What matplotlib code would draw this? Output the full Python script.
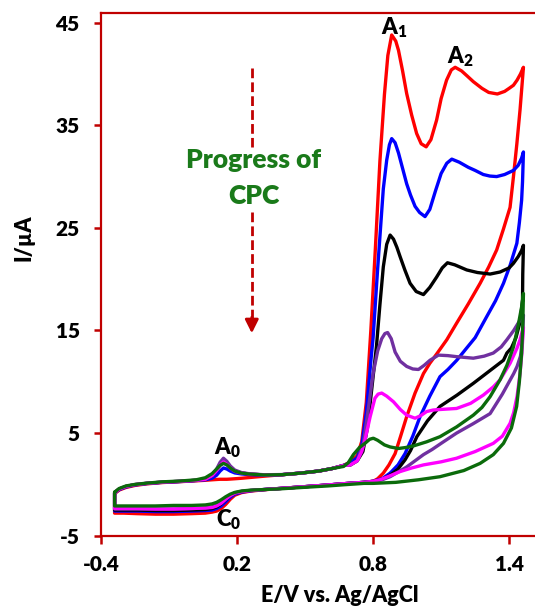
import numpy as np
import matplotlib
matplotlib.use("Agg")
import matplotlib.pyplot as plt

W = 'heavy'
plt.rcParams['font.family'] = ['Lato', 'DejaVu Sans']
plt.rcParams['font.weight'] = W
plt.rcParams['axes.unicode_minus'] = False
plt.rcParams['mathtext.fontset'] = 'custom'
plt.rcParams['mathtext.rm'] = 'Lato:heavy'
plt.rcParams['mathtext.bf'] = 'Lato:heavy'
plt.rcParams['mathtext.it'] = 'Lato:heavy'

# axis ticks
x_ticks = [-0.4, 0.2, 0.8, 1.4]
x_tick_labels = ["-0.4", "0.2", "0.8", "1.4"]
y_ticks = [-5, 5, 15, 25, 35, 45]

# potentials (V) shared by all scans on the low-potential side
e_up_left = [-0.34, -0.32, -0.29, -0.25, -0.20, -0.13, -0.05, 0.02, 0.06, 0.09, 0.11, 0.125,
             0.14, 0.155, 0.17, 0.19, 0.22, 0.26, 0.32, 0.40, 0.48, 0.56, 0.62, 0.67]
e_low_left = [0.76, 0.68, 0.60, 0.50, 0.40, 0.32, 0.26, 0.22, 0.19, 0.17, 0.15, 0.13, 0.11,
              0.09, 0.06, 0.0, -0.08, -0.16, -0.24, -0.30, -0.34]

# ---- red ----
red_up_left = [-0.9, -0.55, -0.3, -0.1, 0.05, 0.18, 0.27, 0.35, 0.4, 0.45, 0.48, 0.5,
               0.5, 0.5, 0.52, 0.55, 0.6, 0.68, 0.8, 0.95, 1.1, 1.3, 1.55, 1.85]
red_up_high = [(0.70, 2.2), (0.73, 2.8), (0.75, 4.2), (0.77, 8.0), (0.79, 15.0), (0.81, 23.0),
               (0.83, 31.5), (0.85, 38.0), (0.865, 41.8), (0.882, 43.8), (0.90, 43.2), (0.912, 42.3),
               (0.93, 40.3), (0.948, 38.1), (0.97, 36.0), (0.992, 34.2), (1.012, 33.2), (1.034, 32.9),
               (1.055, 33.6), (1.08, 35.5), (1.10, 37.6), (1.124, 39.4), (1.145, 40.4), (1.162, 40.65),
               (1.19, 40.3), (1.215, 39.8), (1.242, 39.25), (1.28, 38.6), (1.31, 38.2), (1.348, 38.05),
               (1.38, 38.3), (1.40, 38.6), (1.419, 38.9), (1.435, 39.4), (1.45, 40.0), (1.463, 40.65)]
red_return = [(1.463, 40.65), (1.448, 36.5), (1.434, 33.2), (1.419, 30.0), (1.404, 27.0),
              (1.375, 24.9), (1.345, 22.85), (1.31, 21.2), (1.272, 19.6), (1.22, 17.6), (1.168, 15.7),
              (1.125, 14.1), (1.08, 12.7), (1.05, 11.8), (1.022, 10.8), (0.985, 8.9), (0.948, 6.6),
              (0.92, 4.6), (0.897, 3.0), (0.87, 1.9), (0.845, 1.1), (0.82, 0.55), (0.80, 0.3)]
red_low_left = [0.2, 0.08, -0.06, -0.22, -0.38, -0.52, -0.65, -0.8, -1.05, -1.45, -1.95, -2.35,
                -2.6, -2.7, -2.8, -2.85, -2.9, -2.9, -2.85, -2.8, -2.8]

# ---- blue ----
blue_up_left = [-0.85, -0.5, -0.25, -0.05, 0.08, 0.2, 0.28, 0.38, 0.45, 0.6, 0.9, 1.3,
                1.6, 1.5, 1.3, 1.12, 1.02, 0.95, 0.9, 0.95, 1.1, 1.3, 1.55, 1.85]
blue_up_high = [(0.70, 2.1), (0.73, 2.6), (0.75, 3.8), (0.77, 7.0), (0.79, 12.0), (0.80, 14.3),
                (0.82, 21.0), (0.845, 28.8), (0.86, 31.6), (0.872, 33.1), (0.882, 33.7), (0.897, 33.3),
                (0.912, 32.3), (0.93, 30.8), (0.948, 29.3), (0.965, 28.2), (0.985, 27.1), (1.005, 26.5),
                (1.029, 26.1), (1.05, 26.8), (1.075, 28.6), (1.10, 30.3), (1.125, 31.3), (1.147, 31.7),
                (1.18, 31.4), (1.22, 30.9), (1.25, 30.6), (1.286, 30.2), (1.315, 30.05), (1.345, 30.0),
                (1.38, 30.2), (1.419, 30.6), (1.44, 31.1), (1.455, 31.8), (1.463, 32.4)]
blue_return = [(1.463, 32.4), (1.459, 29.5), (1.455, 27.7), (1.445, 25.5), (1.434, 23.5),
               (1.405, 21.4), (1.375, 19.6), (1.34, 17.9), (1.301, 16.35), (1.25, 14.3), (1.213, 13.3),
               (1.169, 12.1), (1.13, 11.2), (1.095, 10.5), (1.05, 8.6), (1.007, 6.6), (0.975, 4.7),
               (0.941, 3.0), (0.91, 1.9), (0.875, 1.1), (0.84, 0.55), (0.80, 0.3)]
blue_low_left = [0.2, 0.08, -0.06, -0.22, -0.38, -0.5, -0.62, -0.75, -0.95, -1.25, -1.7, -2.1,
                 -2.35, -2.5, -2.55, -2.6, -2.65, -2.65, -2.6, -2.6, -2.6]

# ---- black ----
black_up_left = [-0.8, -0.45, -0.2, -0.02, 0.1, 0.22, 0.3, 0.4, 0.5, 0.85, 1.4, 1.95,
                 2.35, 2.05, 1.65, 1.3, 1.1, 1.0, 0.92, 0.95, 1.1, 1.3, 1.55, 1.85]
black_up_high = [(0.70, 1.9), (0.73, 2.3), (0.755, 3.2), (0.775, 5.5), (0.795, 9.5), (0.815, 13.5),
                 (0.83, 17.5), (0.845, 21.2), (0.86, 23.4), (0.875, 24.3), (0.89, 23.9), (0.905, 23.1),
                 (0.919, 22.2), (0.94, 20.9), (0.963, 19.6), (0.99, 18.8), (1.022, 18.5), (1.05, 19.2),
                 (1.08, 20.2), (1.105, 21.1), (1.128, 21.6), (1.16, 21.4), (1.213, 20.9), (1.26, 20.65),
                 (1.316, 20.5), (1.36, 20.7), (1.40, 21.1), (1.419, 21.55), (1.44, 22.2), (1.455, 22.8),
                 (1.463, 23.3)]
black_return = [(1.463, 23.3), (1.46, 20.5), (1.459, 18.0), (1.45, 16.0), (1.43, 14.3), (1.41, 13.3),
                (1.39, 12.8), (1.375, 12.1), (1.31, 11.0), (1.242, 9.85), (1.17, 8.7), (1.095, 7.6),
                (1.04, 6.2), (0.993, 4.65), (0.965, 3.3), (0.941, 2.4), (0.91, 1.5), (0.875, 0.9),
                (0.84, 0.5), (0.80, 0.3)]
black_low_left = [0.2, 0.08, -0.06, -0.22, -0.38, -0.5, -0.6, -0.7, -0.85, -1.1, -1.5, -1.9,
                  -2.2, -2.35, -2.45, -2.5, -2.55, -2.55, -2.5, -2.5, -2.5]

# ---- purple ----
purple_up_left = [-0.8, -0.45, -0.2, -0.02, 0.1, 0.22, 0.3, 0.4, 0.5, 0.9, 1.5, 2.15,
                  2.55, 2.25, 1.8, 1.4, 1.15, 1.02, 0.94, 0.96, 1.1, 1.3, 1.55, 1.85]
purple_up_high = [(0.70, 1.9), (0.73, 2.3), (0.757, 4.0), (0.779, 7.4), (0.80, 10.8), (0.82, 13.0),
                  (0.838, 14.2), (0.852, 14.7), (0.864, 14.8), (0.88, 14.2), (0.897, 12.9), (0.92, 12.0),
                  (0.948, 11.5), (0.975, 11.25), (1.0, 11.2), (1.025, 11.6), (1.051, 12.1), (1.088, 12.6),
                  (1.13, 12.55), (1.168, 12.45), (1.242, 12.3), (1.29, 12.5), (1.33, 12.8), (1.365, 13.4),
                  (1.39, 14.1), (1.42, 15.0), (1.445, 15.9), (1.463, 16.5)]
purple_return = [(1.463, 16.5), (1.458, 14.0), (1.45, 12.5), (1.435, 11.5), (1.42, 10.8), (1.37, 8.8),
                 (1.316, 6.9), (1.24, 5.9), (1.168, 5.0), (1.10, 4.0), (1.06, 3.4), (1.022, 2.9),
                 (0.985, 2.3), (0.948, 1.7), (0.91, 1.2), (0.875, 0.75), (0.84, 0.45), (0.80, 0.3)]
purple_low_left = [0.2, 0.08, -0.06, -0.22, -0.38, -0.5, -0.58, -0.68, -0.82, -1.05, -1.4, -1.8,
                   -2.05, -2.2, -2.3, -2.35, -2.4, -2.4, -2.4, -2.4, -2.4]

# ---- magenta ----
magenta_up_left = [-0.8, -0.45, -0.2, -0.02, 0.1, 0.22, 0.3, 0.4, 0.5, 0.85, 1.35, 1.85,
                   2.2, 1.95, 1.6, 1.28, 1.1, 1.0, 0.92, 0.95, 1.1, 1.3, 1.55, 1.85]
magenta_up_high = [(0.70, 1.9), (0.73, 2.3), (0.75, 3.2), (0.764, 4.3), (0.787, 6.6), (0.808, 8.4),
                   (0.822, 8.8), (0.838, 8.9), (0.86, 8.6), (0.89, 8.05), (0.92, 7.3), (0.948, 6.75),
                   (0.985, 6.45), (1.01, 6.7), (1.036, 7.1), (1.065, 7.25), (1.095, 7.3), (1.168, 7.4),
                   (1.23, 7.9), (1.286, 8.7), (1.33, 9.5), (1.36, 10.2), (1.404, 11.8), (1.435, 13.3),
                   (1.448, 14.1), (1.463, 15.3)]
magenta_return = [(1.463, 15.3), (1.456, 12.8), (1.448, 10.8), (1.435, 8.6), (1.42, 7.0), (1.404, 5.95),
                  (1.37, 4.7), (1.33, 4.0), (1.25, 3.2), (1.168, 2.55), (1.10, 2.2), (1.022, 1.9),
                  (0.97, 1.6), (0.919, 1.25), (0.87, 0.8), (0.83, 0.45), (0.80, 0.3)]
magenta_low_left = [0.2, 0.08, -0.06, -0.22, -0.38, -0.5, -0.6, -0.7, -0.85, -1.1, -1.45, -1.85,
                    -2.1, -2.25, -2.3, -2.35, -2.4, -2.4, -2.35, -2.35, -2.35]

# ---- green ----
green_up_left = [-0.75, -0.4, -0.15, 0.0, 0.12, 0.25, 0.33, 0.45, 0.65, 1.05, 1.5, 1.85,
                 2.05, 1.9, 1.6, 1.3, 1.1, 1.0, 0.92, 0.95, 1.1, 1.3, 1.55, 1.75]
green_up_high = [(0.69, 2.1), (0.713, 2.9), (0.74, 3.6), (0.764, 4.0), (0.785, 4.4), (0.801, 4.5),
                 (0.82, 4.3), (0.85, 3.85), (0.875, 3.65), (0.912, 3.5), (0.945, 3.6), (0.978, 3.75),
                 (1.036, 4.15), (1.095, 4.65), (1.168, 5.6), (1.242, 6.75), (1.28, 7.5), (1.316, 8.55),
                 (1.36, 10.2), (1.39, 11.6), (1.419, 13.4), (1.44, 15.5), (1.455, 17.3), (1.463, 18.6)]
green_return = [(1.463, 18.6), (1.46, 15.5), (1.455, 12.8), (1.445, 10.0), (1.433, 7.6), (1.41, 5.5),
                (1.375, 4.0), (1.33, 2.9), (1.272, 2.05), (1.20, 1.35), (1.095, 0.75), (1.00, 0.45),
                (0.90, 0.2), (0.80, 0.1)]
green_low_left = [0.1, -0.02, -0.15, -0.28, -0.42, -0.5, -0.56, -0.64, -0.78, -0.95, -1.2, -1.5,
                  -1.75, -1.9, -2.0, -2.05, -2.05, -2.1, -2.1, -2.1, -2.1]

scans = [
    ('#FF0000', red_up_left, red_up_high, red_return, red_low_left),
    ('#0000FF', blue_up_left, blue_up_high, blue_return, blue_low_left),
    ('#000000', black_up_left, black_up_high, black_return, black_low_left),
    ('#7030A0', purple_up_left, purple_up_high, purple_return, purple_low_left),
    ('#FF00FF', magenta_up_left, magenta_up_high, magenta_return, magenta_low_left),
    ('#0B6B0B', green_up_left, green_up_high, green_return, green_low_left),
]

spine_red = '#C00000'

fig = plt.figure(figsize=(5.35, 6.08), dpi=100)
ax = fig.add_axes([0.1888, 0.1189, 0.8112, 0.8602])

for color, up_left, up_high, ret, low_left in scans:
    hx, hy = zip(*up_high)
    rx, ry = zip(*ret)
    x = list(e_up_left) + list(hx) + list(rx) + list(e_low_left) + [e_up_left[0]]
    y = list(up_left) + list(hy) + list(ry) + list(low_left) + [up_left[0]]
    ax.plot(x, y, color=color, lw=2.4, solid_joinstyle='round', solid_capstyle='round')

ax.set_xlim(-0.4, 1.514)
ax.set_ylim(-5, 45.97)
ax.set_xticks(x_ticks)
ax.set_xticklabels(x_tick_labels)
ax.set_yticks(y_ticks)

for side in ['left', 'bottom', 'top']:
    ax.spines[side].set_color(spine_red)
    ax.spines[side].set_linewidth(1.6)
ax.spines['right'].set_visible(False)
ax.tick_params(axis='x', direction='out', length=6, width=1.8, color=spine_red,
               labelsize=15, pad=8, labelcolor='black')
ax.tick_params(axis='y', direction='out', length=5.3, width=1.8, color=spine_red,
               labelsize=15, pad=10, labelcolor='black')
for lab in ax.get_xticklabels() + ax.get_yticklabels():
    lab.set_fontweight(W)

# axis titles
fig.text(23.5 / 535, 1 - 238 / 608, 'I/µA', rotation=90, ha='center', va='center',
         fontsize=15.5, fontweight=W)
fig.text(340 / 535, 1 - 596 / 608, 'E/V vs. Ag/AgCl', ha='center', va='center',
         fontsize=15.5, fontweight=W)

# peak labels
ax.text(0.835, 43.9, r'$\mathbf{A_1}$', fontsize=16, ha='left', va='baseline')
ax.text(1.128, 41.0, r'$\mathbf{A_2}$', fontsize=16, ha='left', va='baseline')
ax.text(0.100, 2.93, r'$\mathbf{A_0}$', fontsize=16, ha='left', va='baseline')
ax.text(0.108, -4.12, r'$\mathbf{C_0}$', fontsize=16, ha='left', va='baseline')

# progress arrow
arrow_x = 0.265
ax.plot([arrow_x, arrow_x], [40.58, 32.9], color=spine_red, lw=2, linestyle=(0, (3.5, 1.5)))
ax.plot([arrow_x, arrow_x], [26.58, 15.9], color=spine_red, lw=2, linestyle=(0, (3.5, 1.5)))
ax.annotate('', xy=(arrow_x, 14.73), xytext=(arrow_x, 16.3),
            arrowprops=dict(arrowstyle='-|>,head_length=0.8,head_width=0.4', color=spine_red,
                            lw=2, mutation_scale=10, shrinkA=0, shrinkB=0))
ax.text(0.275, 30.84, 'Progress of', color='#1A7A1A', fontsize=19, fontweight=W,
        ha='center', va='baseline')
ax.text(0.275, 27.33, 'CPC', color='#1A7A1A', fontsize=19, fontweight=W,
        ha='center', va='baseline')

fig.savefig('out.png', dpi=100)
